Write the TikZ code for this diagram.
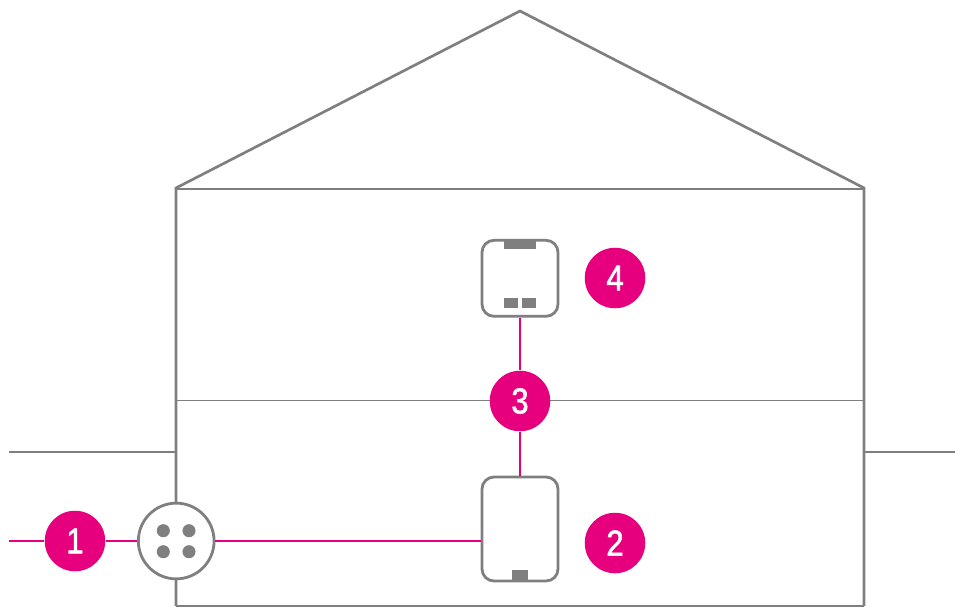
\documentclass[tikz,border=0pt]{standalone}
\usepackage{fontspec}
\newfontfamily\badgefont[FakeStretch=0.86,FakeBold=1.6]{Liberation Sans}
\definecolor{tmagenta}{HTML}{E6007E}
\definecolor{tgrey}{HTML}{7F7F7F}
\tikzset{
  badge/.style={circle,fill=tmagenta,text=white,inner sep=0pt,minimum size=45.4pt,font=\badgefont\fontsize{27}{27}\selectfont},
  device/.style={draw=tgrey,line width=2.1pt,fill=white,rounded corners=9pt,inner sep=0pt,minimum width=57pt},
  tab/.style={fill=tgrey,inner sep=0pt},
  pin/.style={circle,fill=tgrey,inner sep=0pt,minimum size=9.8pt},
  wall/.style={draw=tgrey,line width=2pt},
  floorline/.style={draw=tgrey,line width=0.8pt},
  cable/.style={draw=tmagenta,line width=2.1pt}
}
\begin{document}
\begin{tikzpicture}[x=0.75pt,y=-0.75pt]
      \useasboundingbox (0,0) rectangle (966,607);
      \path
        (176,606) coordinate (footl)
        (176,188) coordinate (eavel)
        (520,11) coordinate (ridge)
        (864,188) coordinate (eaver)
        (864,606) coordinate (footr)
        (176,189) coordinate (ceill)
        (864,189) coordinate (ceilr)
        (176,400.5) coordinate (floorl)
        (864,400.5) coordinate (floorr)
        (9,452) coordinate (groundl)
        (176,452) coordinate (groundlend)
        (864,452) coordinate (groundrend)
        (955,452) coordinate (groundr)
        (9,541) coordinate (linein);
      \begin{scope}[wall]
        \draw (footl) -- (eavel) -- (ridge) -- (eaver) -- (footr);
        \draw (groundl) to (groundlend);
        \draw (groundrend) to (groundr);
      \end{scope}
      \begin{scope}[floorline]
        \draw (ceill) to (ceilr);
        \draw (floorl) to (floorr);
        \draw (footl) to (footr);
      \end{scope}
      \draw
        (75,541) node[badge] (badge1){1}
        (176.2,541) node[device,circle,minimum size=56.8pt,rounded corners=0pt] (socket){}
        (520,529) node[device,minimum height=78pt] (box2){}
        (520,278.3) node[device,minimum height=57pt] (box4){}
        (615,543) node[badge] (badge2){2}
        (520,401) node[badge] (badge3){3}
        (615,278) node[badge] (badge4){4};
      \begin{scope}[cable]
        \draw (linein) to (badge1);
        \draw (badge1) to (socket);
        \draw (socket) to (socket -| box2.west);
        \draw (box2) to (badge3);
        \draw (badge3) to (box4);
      \end{scope}
      \draw
        (163.3,530.7) node[pin] (pin1){}
        (189,530.7) node[pin] (pin2){}
        (163.3,551.7) node[pin] (pin3){}
        (189,551.7) node[pin] (pin4){}
        (520,244.5) node[tab,minimum width=24pt,minimum height=6.5pt] (tab1){}
        (511,303) node[tab,minimum width=10.5pt,minimum height=7.5pt] (tab2){}
        (529,303) node[tab,minimum width=10.5pt,minimum height=7.5pt] (tab3){}
        (520,575.5) node[tab,minimum width=12pt,minimum height=8.2pt] (tab4){};
    \end{tikzpicture}
\end{document}
